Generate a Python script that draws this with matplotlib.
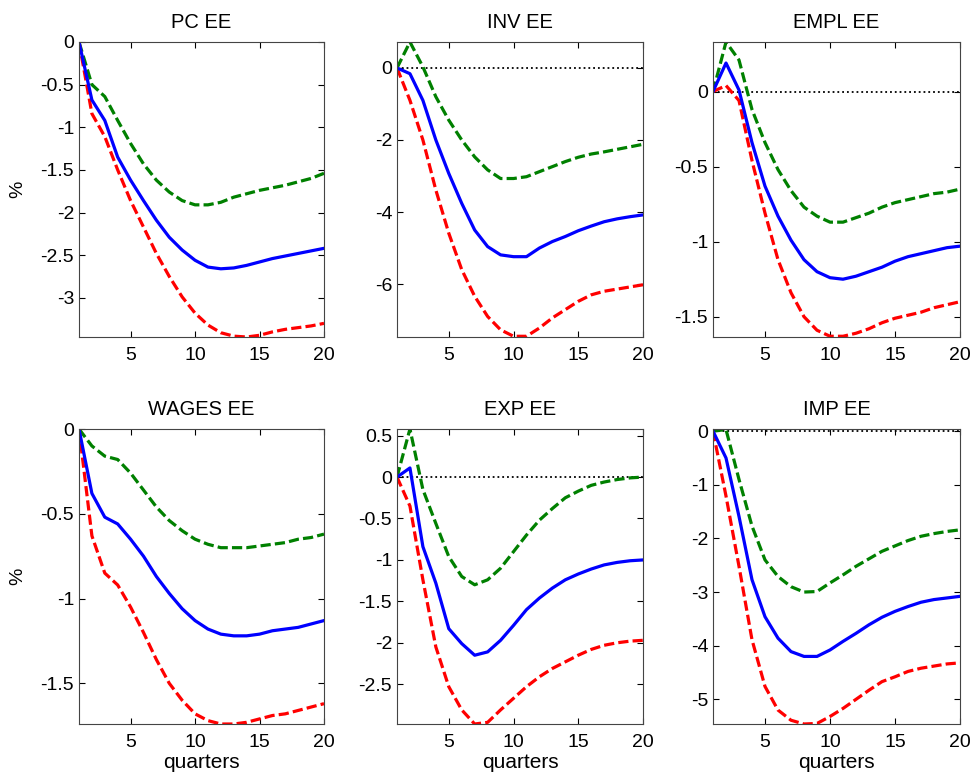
import matplotlib
matplotlib.use('Agg')
import matplotlib.pyplot as plt
import numpy as np
from matplotlib.ticker import FormatStrFormatter

plt.rcParams['font.family'] = ['Liberation Sans', 'DejaVu Sans']
plt.rcParams['axes.unicode_minus'] = False

quarters = np.arange(1, 21)

titles = ['PC EE', 'INV EE', 'EMPL EE', 'WAGES EE', 'EXP EE', 'IMP EE']

# median responses
pc_med = [0, -0.68, -0.92, -1.35, -1.62, -1.86, -2.09, -2.29, -2.44, -2.56,
          -2.64, -2.66, -2.65, -2.62, -2.58, -2.54, -2.51, -2.48, -2.45, -2.42]
inv_med = [0, -0.16, -0.9, -2.0, -2.93, -3.76, -4.5, -4.96, -5.19, -5.24,
           -5.24, -5.0, -4.82, -4.68, -4.52, -4.39, -4.27, -4.19, -4.13, -4.08]
empl_med = [0, 0.19, 0.01, -0.34, -0.63, -0.83, -0.99, -1.12, -1.2, -1.24,
            -1.25, -1.23, -1.2, -1.17, -1.13, -1.1, -1.08, -1.06, -1.04, -1.03]
wages_med = [0, -0.38, -0.52, -0.56, -0.65, -0.75, -0.87, -0.97, -1.06, -1.13,
             -1.18, -1.21, -1.22, -1.22, -1.21, -1.19, -1.18, -1.17, -1.15, -1.13]
exp_med = [0, 0.11, -0.84, -1.28, -1.83, -2.01, -2.15, -2.11, -1.97, -1.79,
           -1.6, -1.46, -1.34, -1.24, -1.17, -1.11, -1.06, -1.03, -1.01, -1.0]
imp_med = [0, -0.5, -1.59, -2.77, -3.46, -3.86, -4.11, -4.2, -4.2, -4.08,
           -3.92, -3.77, -3.61, -3.47, -3.36, -3.27, -3.19, -3.14, -3.11, -3.08]

# upper bands
pc_up = [0, -0.5, -0.64, -0.92, -1.19, -1.43, -1.62, -1.76, -1.86, -1.91,
         -1.91, -1.88, -1.82, -1.78, -1.74, -1.71, -1.68, -1.64, -1.6, -1.54]
inv_up = [0, 0.72, 0.03, -0.8, -1.45, -2.0, -2.47, -2.83, -3.07, -3.07,
          -3.02, -2.88, -2.74, -2.6, -2.48, -2.39, -2.33, -2.26, -2.19, -2.12]
empl_up = [0, 0.33, 0.21, -0.12, -0.34, -0.52, -0.66, -0.77, -0.83, -0.87,
           -0.87, -0.84, -0.81, -0.77, -0.74, -0.72, -0.7, -0.68, -0.67, -0.65]
wages_up = [0, -0.1, -0.16, -0.18, -0.26, -0.36, -0.46, -0.54, -0.6, -0.65,
            -0.68, -0.7, -0.7, -0.7, -0.69, -0.68, -0.67, -0.65, -0.64, -0.62]
exp_up = [0, 0.58, -0.15, -0.56, -0.96, -1.2, -1.3, -1.24, -1.1, -0.9,
          -0.7, -0.52, -0.38, -0.25, -0.17, -0.1, -0.06, -0.03, -0.01, 0.0]
imp_up = [0, 0.03, -0.9, -1.77, -2.4, -2.71, -2.9, -3.0, -2.99, -2.83,
          -2.68, -2.52, -2.38, -2.24, -2.14, -2.04, -1.96, -1.91, -1.87, -1.84]

# lower bands
pc_lo = [0, -0.84, -1.11, -1.5, -1.86, -2.17, -2.48, -2.75, -2.99, -3.18,
         -3.32, -3.41, -3.45, -3.46, -3.44, -3.4, -3.37, -3.35, -3.33, -3.3]
inv_lo = [0, -0.9, -2.0, -3.39, -4.59, -5.6, -6.34, -6.9, -7.27, -7.45,
          -7.45, -7.22, -6.94, -6.71, -6.48, -6.3, -6.2, -6.14, -6.08, -6.02]
empl_lo = [0, 0.04, -0.06, -0.46, -0.81, -1.12, -1.34, -1.5, -1.59, -1.63,
           -1.63, -1.61, -1.58, -1.54, -1.51, -1.49, -1.47, -1.44, -1.42, -1.4]
wages_lo = [0, -0.63, -0.85, -0.92, -1.05, -1.2, -1.36, -1.5, -1.6, -1.68,
            -1.72, -1.74, -1.74, -1.73, -1.71, -1.69, -1.68, -1.66, -1.64, -1.62]
exp_lo = [0, -0.35, -1.24, -2.05, -2.53, -2.81, -2.98, -2.96, -2.81, -2.67,
          -2.53, -2.41, -2.31, -2.23, -2.15, -2.08, -2.03, -2.0, -1.98, -1.97]
imp_lo = [0, -1.21, -2.52, -3.89, -4.76, -5.2, -5.39, -5.46, -5.45, -5.32,
          -5.17, -5.0, -4.83, -4.67, -4.58, -4.48, -4.42, -4.38, -4.34, -4.32]

ylims = [(-3.46, 0), (-7.47, 0.72), (-1.635, 0.33),
         (-1.74, 0), (-2.98, 0.58), (-5.46, 0.04)]
yticks = [[-3, -2.5, -2, -1.5, -1, -0.5, 0], [-6, -4, -2, 0],
          [-1.5, -1, -0.5, 0], [-1.5, -1, -0.5, 0],
          [-2.5, -2, -1.5, -1, -0.5, 0, 0.5], [-5, -4, -3, -2, -1, 0]]

meds = [pc_med, inv_med, empl_med, wages_med, exp_med, imp_med]
ups = [pc_up, inv_up, empl_up, wages_up, exp_up, imp_up]
los = [pc_lo, inv_lo, empl_lo, wages_lo, exp_lo, imp_lo]

W, H = 974, 779
fig = plt.figure(figsize=(W / 100, H / 100), dpi=100)

lefts = [79, 397, 713]
widths = [245, 246, 247]
tops = [42, 429]
ah = 295

for i in range(6):
    r, c = divmod(i, 3)
    ax = fig.add_axes([lefts[c] / W, 1 - (tops[r] + ah) / H, widths[c] / W, ah / H])
    ax.plot(quarters, np.zeros(20), color='black', linestyle=':', linewidth=1.3)
    ax.plot(quarters, ups[i], color=(0, 0.5, 0), linestyle='--', linewidth=2.3, dashes=(3.2, 1.3))
    ax.plot(quarters, los[i], color=(1, 0, 0), linestyle='--', linewidth=2.3, dashes=(3.2, 1.3))
    ax.plot(quarters, meds[i], color=(0, 0, 1), linewidth=2.3)
    ax.set_xlim(1, 20)
    ax.set_ylim(*ylims[i])
    ax.set_xticks([5, 10, 15, 20])
    ax.set_yticks(yticks[i])
    ax.yaxis.set_major_formatter(FormatStrFormatter('%g'))
    ax.tick_params(direction='in', top=True, right=True, labelsize=14, length=4)
    ax.tick_params(axis='x', pad=7)
    for s in ax.spines.values():
        s.set_color('#444444')
    ax.set_title(titles[i], fontsize=14.5, pad=10)
    if c == 0:
        ax.set_ylabel('%', fontsize=14, labelpad=10)
    if r == 1:
        ax.set_xlabel('quarters', fontsize=15, labelpad=2)

fig.savefig('out.png', dpi=100)
